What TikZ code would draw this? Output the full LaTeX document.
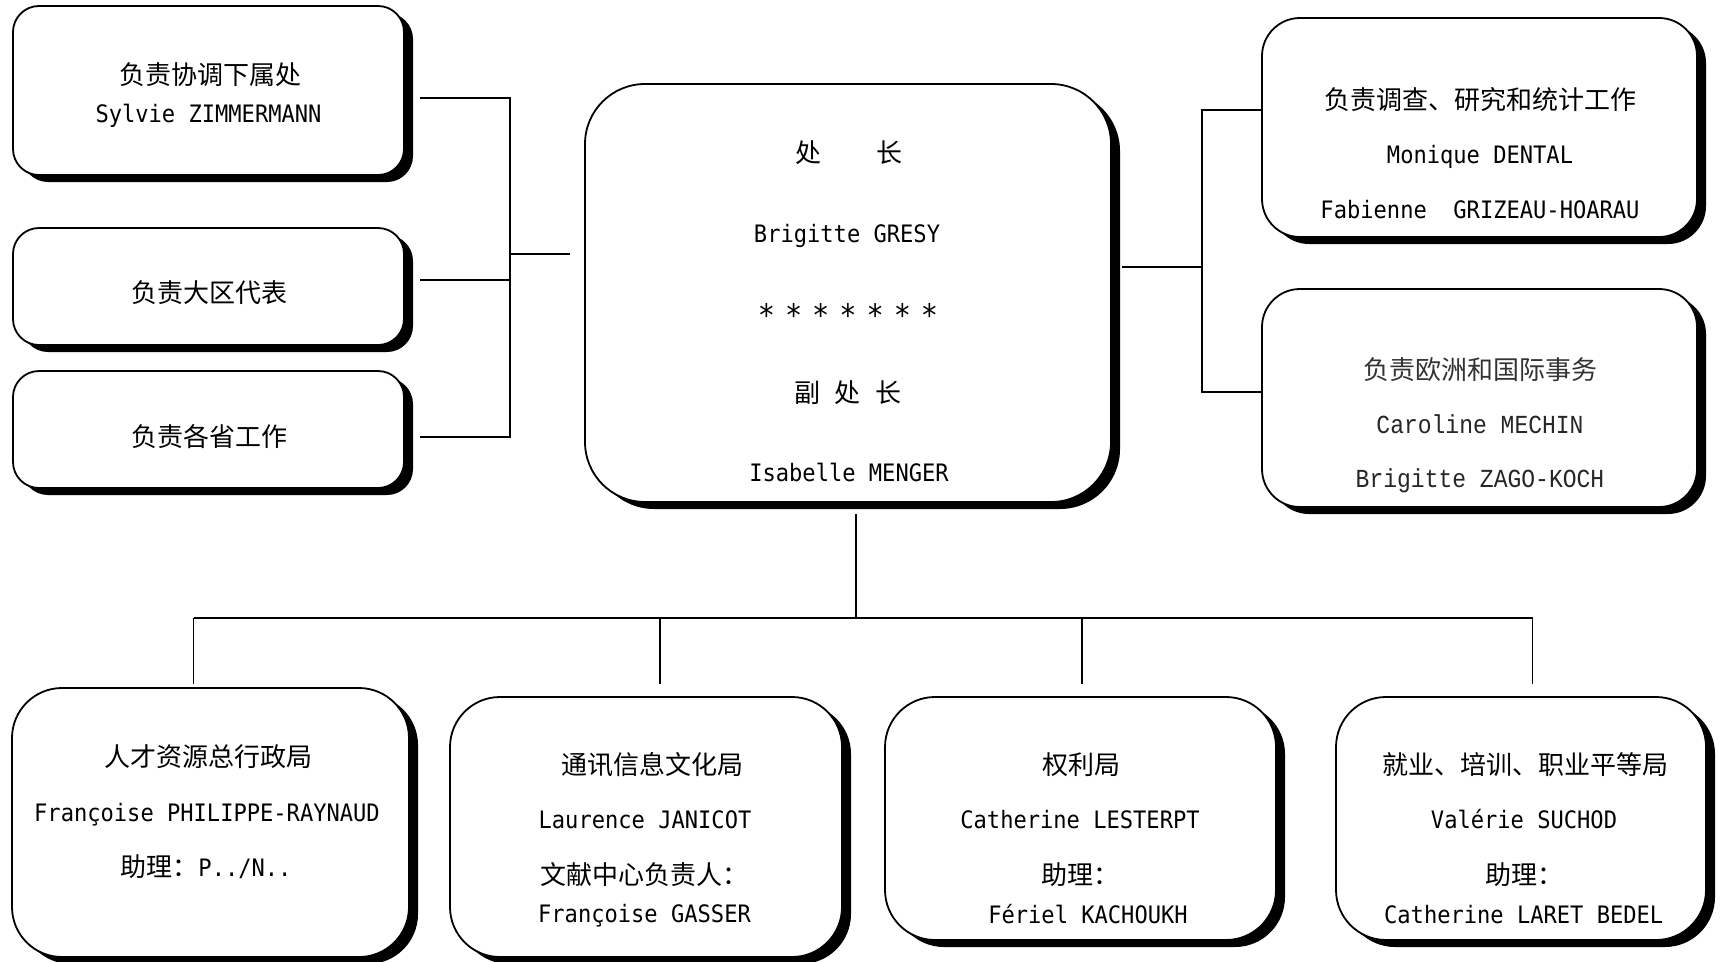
\documentclass[tikz,border=0pt]{standalone}
\usepackage{fontspec}
\usetikzlibrary{shadows}
\newfontfamily\cjk{Noto Sans CJK SC}
\newfontfamily\lat[FakeStretch=0.92]{DejaVu Sans Mono}
\newfontfamily\cour[FakeStretch=0.885]{Liberation Mono}
\newcommand\cjkT{\cjk\fontsize{26}{30}\selectfont}
\newcommand\songT{\cjk\fontsize{26}{30}\selectfont\color[gray]{0.2}}
\newcommand\latT{\lat\fontsize{24}{28}\selectfont}
\newcommand\starT{\lat\fontsize{31}{34}\selectfont}
\newcommand\courT{\cour\fontsize{26}{30}\selectfont\color[gray]{0.15}}
\newcommand\sg{\hspace{10pt}}
\begin{document}
\begin{tikzpicture}[x=1pt,y=-1pt,
  box/.style={draw=black, line width=1.8pt, fill=white, inner sep=0pt, rounded corners=#1,
    drop shadow={shadow xshift=9pt, shadow yshift=-7pt, fill=black, opacity=1}},
  ln/.style={line width=1.6pt},
  t/.style={anchor=base, inner sep=0pt},
  tc/.style={anchor=center, inner sep=0pt}]
\fill[white] (0,0) rectangle (1723,961);
\useasboundingbox (0,0) rectangle (1723,961);

% boxes
\node[box=26pt, minimum width=391pt, minimum height=169pt] (L1) at (208.5,90.5) {};
\node[box=26pt, minimum width=391pt, minimum height=117pt] (L2) at (208.5,286.5) {};
\node[box=26pt, minimum width=391pt, minimum height=117pt] (L3) at (208.5,429.5) {};
\node[box=60pt, minimum width=526pt, minimum height=418pt] (C) at (848,293) {};
\node[box=38pt, minimum width=435pt, minimum height=219pt] (R1) at (1479.5,127.5) {};
\node[box=38pt, minimum width=435pt, minimum height=218pt] (R2) at (1479.5,398) {};
\node[box=50pt, minimum width=397pt, minimum height=269pt] (B1) at (210.5,822.5) {};
\node[box=50pt, minimum width=392pt, minimum height=260pt] (B2) at (646,827) {};
\node[box=50pt, minimum width=391pt, minimum height=243pt] (B3) at (1080.5,818.5) {};
\node[box=50pt, minimum width=370pt, minimum height=243pt] (B4) at (1521,818.5) {};

% texts
\node[t] (L1a) at (210.5,84) {\cjkT 负责协调下属处};
\node[t] (L1b) at (208.5,122) {\latT Sylvie ZIMMERMANN};
\node[t] (L2a) at (209.5,302) {\cjkT 负责大区代表};
\node[t] (L3a) at (209.5,446) {\cjkT 负责各省工作};

\node[t] (Ca) at (849,162) {\cjkT 处\hspace{55pt}长};
\node[t] (Cb) at (847,242) {\latT Brigitte GRESY};
\node[tc] (Cc) at (848,315) {\starT *\sg*\sg*\sg*\sg*\sg*\sg*};
\node[t] (Cd) at (848,402) {\cjkT 副\hspace{14.6pt}处\hspace{14.6pt}长};
\node[t] (Ce) at (849,481) {\latT Isabelle MENGER};

\node[t] (R1a) at (1480.7,109) {\cjkT 负责调查、研究和统计工作};
\node[t] (R1b) at (1480,163) {\latT Monique DENTAL};
\node[t] (R1c) at (1480,218) {\latT Fabienne\ \ GRIZEAU-HOARAU};

\node[t] (R2a) at (1480.7,379) {\songT 负责欧洲和国际事务};
\node[t] (R2b) at (1480,433) {\courT Caroline MECHIN};
\node[t] (R2c) at (1480,487) {\courT Brigitte ZAGO-KOCH};

\node[t] (B1a) at (208,766) {\cjkT 人才资源总行政局};
\node[t] (B1b) at (207,821) {\latT Françoise PHILIPPE-RAYNAUD};
\node[t] (B1c) at (206,876) {\cjkT 助理：\latT P../N..};

\node[t] (B2a) at (652.6,774) {\cjkT 通讯信息文化局};
\node[t] (B2b) at (645,828) {\latT Laurence JANICOT};
\node[t] (B2c) at (644,884) {\cjkT 文献中心负责人：};
\node[t] (B2d) at (644.5,922) {\latT Françoise GASSER};

\node[t] (B3a) at (1081.5,774) {\cjkT 权利局};
\node[t] (B3b) at (1080,828) {\latT Catherine LESTERPT};
\node[t] (B3c) at (1080.6,884) {\cjkT 助理：};
\node[t] (B3d) at (1088,923) {\latT Fériel KACHOUKH};

\node[t] (B4a) at (1525,774) {\cjkT 就业、培训、职业平等局};
\node[t] (B4b) at (1524,828) {\latT Valérie SUCHOD};
\node[t] (B4c) at (1524.7,884) {\cjkT 助理：};
\node[t] (B4d) at (1523.7,923) {\latT Catherine LARET BEDEL};

% connector coordinates
\coordinate (L1c) at (420,98);
\coordinate (L2c) at (420,280);
\coordinate (L3c) at (420,437);
\coordinate (JL1) at (510,98);
\coordinate (JL2) at (510,280);
\coordinate (JL3) at (510,437);
\coordinate (JLm) at (510,254);
\coordinate (Cl) at (570,254);
\coordinate (Cr) at (1122,267);
\coordinate (JRm) at (1202,267);
\coordinate (JR1) at (1202,110);
\coordinate (JR2) at (1202,392);
\coordinate (Cb0) at (856,514);
\coordinate (Bus) at (856,618);
\coordinate (D1) at (193.6,618);
\coordinate (D2) at (660,618);
\coordinate (D3) at (1081.8,618);
\coordinate (D4) at (1532.5,618);
\coordinate (D1e) at (193.6,684);
\coordinate (D2e) at (660,684);
\coordinate (D3e) at (1081.8,684);
\coordinate (D4e) at (1532.5,684);

% connectors
\draw[ln] (L1c) -- (JL1) -- (JL3) -- (L3c);
\draw[ln] (L2c) -- (JL2);
\draw[ln] (JLm) -- (Cl);
\draw[ln] (Cr) -- (JRm);
\draw[ln] (JR1 -| R1.west) -- (JR1) -- (JR2) -- (JR2 -| R2.west);
\draw[ln] (Cb0) -- (Bus);
\draw[ln] (D1) -- (D4);
\draw[ln] (D1) -- (D1e);
\draw[ln] (D2) -- (D2e);
\draw[ln] (D3) -- (D3e);
\draw[ln] (D4) -- (D4e);
\end{tikzpicture}
\end{document}
